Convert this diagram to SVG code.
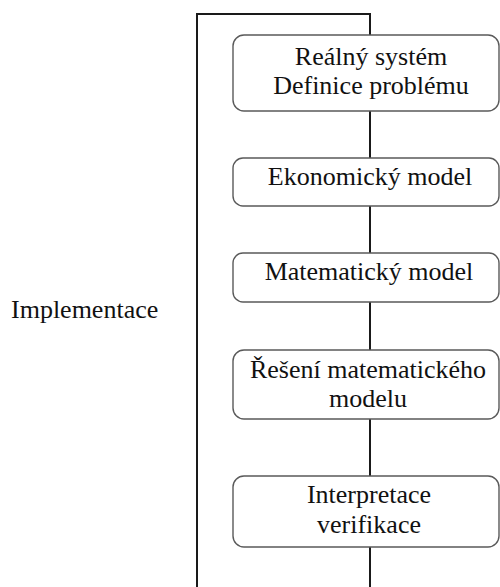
<svg xmlns="http://www.w3.org/2000/svg" width="500" height="587" viewBox="0 0 500 587">
  <style>
    .box { fill: #ffffff; stroke: #5a5a5a; stroke-width: 1.4; }
    .wire { fill: none; stroke: #1a1a1a; stroke-width: 2; }
    .label { font-family: "Liberation Serif", "Times New Roman", serif; font-size: 26px; fill: #111111; text-anchor: middle; }
    .side { font-family: "Liberation Serif", "Times New Roman", serif; font-size: 26px; fill: #111111; }
  </style>
  <rect width="500" height="587" fill="#ffffff"/>

  <g id="connectors">
    <!-- feedback loop: from the first step back round the left side -->
    <path class="wire" d="M370,35 V14 H197 V587"/>
    <line class="wire" x1="370" y1="111" x2="370" y2="158"/>
    <line class="wire" x1="370" y1="206" x2="370" y2="253"/>
    <line class="wire" x1="370" y1="302" x2="370" y2="350"/>
    <line class="wire" x1="370" y1="419" x2="370" y2="476"/>
    <line class="wire" x1="370" y1="547" x2="370" y2="587"/>
  </g>

  <g id="implementace">
    <text class="side" x="11" y="318">Implementace</text>
  </g>

  <g id="realny-system">
    <rect class="box" x="233" y="35" width="266" height="76" rx="11"/>
    <text class="label" x="371" y="65">Reálný systém</text>
    <text class="label" x="371" y="94">Definice problému</text>
  </g>

  <g id="ekonomicky-model">
    <rect class="box" x="233" y="158" width="266" height="48" rx="10"/>
    <text class="label" x="370" y="185">Ekonomický model</text>
  </g>

  <g id="matematicky-model">
    <rect class="box" x="233" y="253" width="266" height="49" rx="10"/>
    <text class="label" x="369" y="280">Matematický model</text>
  </g>

  <g id="reseni-modelu">
    <rect class="box" x="233" y="350" width="266" height="69" rx="11"/>
    <text class="label" x="368" y="378">Řešení matematického</text>
    <text class="label" x="368" y="407">modelu</text>
  </g>

  <g id="interpretace">
    <rect class="box" x="233" y="476" width="266" height="71" rx="11"/>
    <text class="label" x="369" y="503">Interpretace</text>
    <text class="label" x="369" y="533">verifikace</text>
  </g>
</svg>
